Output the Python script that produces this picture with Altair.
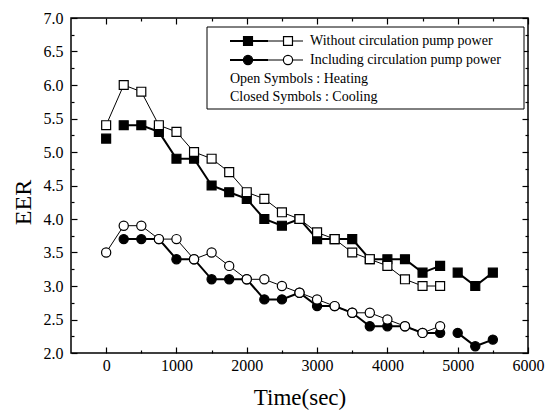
import altair as alt
import pandas as pd

# ---------------- data ----------------
time = [0, 250, 500, 750, 1000, 1250, 1500, 1750, 2000, 2250, 2500, 2750,
        3000, 3250, 3500, 3750, 4000, 4250, 4500, 4750, 5000, 5250, 5500]

# Without circulation pump power, cooling (closed squares)
without_cooling = [5.2, 5.4, 5.4, 5.3, 4.9, 4.9, 4.5, 4.4, 4.3, 4.0, 3.9, 4.0,
                   3.7, 3.7, 3.7, 3.4, 3.4, 3.4, 3.2, 3.3, 3.2, 3.0, 3.2]
# Without circulation pump power, heating (open squares)
without_heating = [5.4, 6.0, 5.9, 5.4, 5.3, 5.0, 4.9, 4.7, 4.4, 4.3, 4.1, 4.0,
                   3.8, 3.7, 3.5, 3.4, 3.3, 3.1, 3.0, 3.0, None, None, None]
# Including circulation pump power, cooling (closed circles)
including_cooling = [None, 3.7, 3.7, 3.7, 3.4, 3.4, 3.1, 3.1, 3.1, 2.8, 2.8, 2.9,
                     2.7, 2.7, 2.6, 2.4, 2.4, 2.4, 2.3, 2.3, 2.3, 2.1, 2.2]
# Including circulation pump power, heating (open circles)
including_heating = [3.5, 3.9, 3.9, 3.7, 3.7, 3.4, 3.5, 3.3, 3.1, 3.1, 3.0, 2.9,
                     2.8, 2.7, 2.6, 2.6, 2.5, 2.4, 2.3, 2.4, None, None, None]

# run segments (line breaks in the original)
cooling_segment = [0] + [1] * 19 + [2] * 3
heating_segment = [1] * 23

legend_labels = ["Without circulation pump power",
                 "Including circulation pump power",
                 "Open Symbols : Heating",
                 "Closed Symbols : Cooling"]

x_major = [0, 1000, 2000, 3000, 4000, 5000, 6000]
x_minor = [500, 1500, 2500, 3500, 4500, 5500]
y_major = [2.0, 2.5, 3.0, 3.5, 4.0, 4.5, 5.0, 5.5, 6.0, 6.5, 7.0]
y_minor = [2.25, 2.75, 3.25, 3.75, 4.25, 4.75, 5.25, 5.75, 6.25, 6.75]

# ---------------- table ----------------
rows = []
for name, vals, segs, shape, mode in [
    ("without_cooling", without_cooling, cooling_segment, "square", "closed"),
    ("without_heating", without_heating, heating_segment, "square", "open"),
    ("including_cooling", including_cooling, cooling_segment, "circle", "closed"),
    ("including_heating", including_heating, heating_segment, "circle", "open"),
]:
    for t, v, s in zip(time, vals, segs):
        if v is not None:
            rows.append({"t": t, "eer": v, "series": name, "grp": f"{name}_{s}",
                         "shape": shape, "mode": mode})
df = pd.DataFrame(rows)

FONT = "Liberation Serif"
W, H = 457, 335

xs = alt.Scale(domain=[-500, 6000], nice=False, zero=False)
ys = alt.Scale(domain=[2.0, 7.0], nice=False, zero=False)

base = alt.Chart(df)

closed_lines = base.transform_filter(alt.datum.mode == "closed").mark_line(
    color="black", strokeWidth=2
).encode(
    x=alt.X("t:Q", scale=xs, axis=None),
    y=alt.Y("eer:Q", scale=ys, axis=None),
    detail="grp:N",
    order="t:Q",
)
open_lines = base.transform_filter(alt.datum.mode == "open").mark_line(
    color="black", strokeWidth=1
).encode(
    x=alt.X("t:Q", scale=xs, axis=None),
    y=alt.Y("eer:Q", scale=ys, axis=None),
    detail="grp:N",
    order="t:Q",
)


def pts(shape, mode):
    filled = mode == "closed"
    return base.transform_filter(
        (alt.datum.shape == shape) & (alt.datum.mode == mode)
    ).mark_point(
        shape=shape, filled=True, size=80 if shape == "square" else 85,
        fill="black" if filled else "white", stroke="black", strokeWidth=1.2,
        opacity=1,
    ).encode(
        x=alt.X("t:Q", scale=xs, axis=None),
        y=alt.Y("eer:Q", scale=ys, axis=None),
    )


data_layer = alt.layer(
    closed_lines, open_lines,
    pts("square", "closed"), pts("circle", "closed"),
    pts("square", "open"), pts("circle", "open"),
)

common = dict(domain=False, grid=False, tickColor="black", tickWidth=1.2,
              labelFont=FONT, labelColor="black", titleFont=FONT,
              titleColor="black", titleFontWeight="normal")


def axis_layer(xaxis, yaxis):
    return base.mark_point(opacity=0).encode(
        x=alt.X("t:Q", scale=xs, axis=xaxis),
        y=alt.Y("eer:Q", scale=ys, axis=yaxis),
    )


ax_main = axis_layer(
    alt.Axis(orient="bottom", values=x_major, tickSize=6, offset=-6,
             labelFontSize=16, labelPadding=4, labelFlush=False,
             labelOverlap=False, format="d", title="Time(sec)",
             titleFontSize=23, titlePadding=13, **common),
    alt.Axis(orient="left", values=y_major, tickSize=6, offset=-6,
             labelFontSize=16, labelPadding=8, labelOverlap=False,
             format=".1f", title="EER", titleFontSize=24, titlePadding=8,
             titleY=184, **common),
)
ax_minor = axis_layer(
    alt.Axis(orient="bottom", values=x_minor, tickSize=3, offset=-3,
             labels=False, title=None, **common),
    alt.Axis(orient="left", values=y_minor, tickSize=3, offset=-3,
             labels=False, title=None, **common),
)
ax_top = axis_layer(
    alt.Axis(orient="top", values=x_major, tickSize=6, offset=-6,
             labels=False, title=None, **common),
    alt.Axis(orient="right", values=y_major, tickSize=6, offset=-6,
             labels=False, title=None, **common),
)
ax_top_minor = axis_layer(
    alt.Axis(orient="top", values=x_minor, tickSize=3, offset=-3,
             labels=False, title=None, **common),
    alt.Axis(orient="right", values=y_minor, tickSize=3, offset=-3,
             labels=False, title=None, **common),
)

# ---------------- legend (drawn in pixel space) ----------------
one = alt.Chart(pd.DataFrame({"k": [0]}))
box = one.mark_rect(fill="white", stroke="black", strokeWidth=1).encode(
    x=alt.value(136), x2=alt.value(453), y=alt.value(9), y2=alt.value(91)
)
leg_layers = [box]
row_y = [23, 42, 61, 79]
for i, mshape in enumerate(["square", "circle"]):
    yy = row_y[i]
    leg_layers.append(one.mark_rule(color="black", strokeWidth=2).encode(
        x=alt.value(159), x2=alt.value(197), y=alt.value(yy)))
    leg_layers.append(one.mark_rule(color="black", strokeWidth=1).encode(
        x=alt.value(197), x2=alt.value(232), y=alt.value(yy)))
    sz = 80 if mshape == "square" else 85
    leg_layers.append(one.mark_point(shape=mshape, filled=True, size=sz,
                                     fill="black", stroke="black",
                                     strokeWidth=1.2, opacity=1).encode(
        x=alt.value(177), y=alt.value(yy)))
    leg_layers.append(one.mark_point(shape=mshape, filled=True, size=sz,
                                     fill="white", stroke="black",
                                     strokeWidth=1.2, opacity=1).encode(
        x=alt.value(217), y=alt.value(yy)))
for i, lab in enumerate(legend_labels):
    leg_layers.append(one.mark_text(
        text=lab, font=FONT, fontSize=14, color="black", align="left",
        baseline="middle").encode(
        x=alt.value(239 if i < 2 else 159), y=alt.value(row_y[i])))

chart = alt.layer(
    data_layer, ax_main, ax_minor, ax_top, ax_top_minor, *leg_layers
).resolve_scale(
    x="independent", y="independent"
).properties(
    width=W, height=H,
    autosize=alt.AutoSizeParams(type="none"),
    padding={"left": 71, "top": 18, "right": 26, "bottom": 60},
    background="white",
).configure_view(
    stroke="black", strokeWidth=1.5
).configure_axis(
    labelFont=FONT, labelColor="black", labelFontSize=16,
    titleFont=FONT, titleColor="black", titleFontWeight="normal",
    tickColor="black",
)

chart.save("out.html", embed_options={"renderer": "svg", "actions": False})
